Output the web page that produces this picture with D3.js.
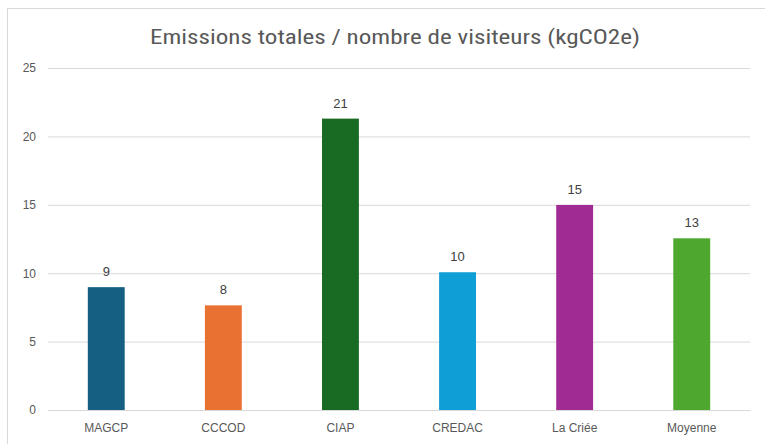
<!DOCTYPE html>
<html><head><meta charset="utf-8">
<script src="https://cdn.jsdelivr.net/npm/d3@7"></script>
<style>body{margin:0;background:#fff}svg{display:block}</style>
</head><body>
<svg id="c" width="765" height="444"></svg>
<script>
const categories = ["MAGCP","CCCOD","CIAP","CREDAC","La Criée","Moyenne"];
const values = [8.98, 7.65, 21.3, 10.07, 14.99, 12.55];
const labels = ["9","8","21","10","15","13"];
const colors = ["#156082","#E97132","#196B24","#0F9ED5","#A02B93","#4EA72E"];
const yTicks = [0,5,10,15,20,25];
const title = "Emissions totales / nombre de visiteurs (kgCO2e)";

const svg = d3.select("#c");
svg.append("rect").attr("x",7.5).attr("y",8.5).attr("width",770).attr("height",450)
  .attr("fill","#fff").attr("stroke","#d9d9d9");

const m = {l:48, r:750, t:68, b:410};
const x = d3.scaleBand().domain(categories).range([m.l,m.r]).paddingInner(0.685).paddingOuter(0.34);
const y = d3.scaleLinear().domain([0,25]).range([m.b,m.t]);

svg.append("text").attr("x",395).attr("y",44).attr("text-anchor","middle")
  .attr("font-family","'Liberation Sans Narrow','Roboto Condensed','Open Sans',sans-serif")
  .attr("font-size",20).attr("fill","#595959")
  .attr("textLength",490).attr("lengthAdjust","spacingAndGlyphs").text(title);

const ya = d3.axisLeft(y).tickValues(yTicks).tickSize(-(m.r-m.l)).tickPadding(12);
const gy = svg.append("g").attr("transform",`translate(${m.l},0)`).call(ya);
gy.select(".domain").remove();
gy.selectAll(".tick line").attr("stroke","#d9d9d9");
gy.selectAll(".tick text").attr("fill","#595959").attr("font-size",12)
  .attr("font-family","'Liberation Sans',Arial,sans-serif");

const xa = d3.axisBottom(x).tickSize(0).tickPadding(13);
const gx = svg.append("g").attr("transform",`translate(0,${m.b})`).call(xa);
gx.select(".domain").attr("stroke","#d9d9d9");
gx.selectAll(".tick text").attr("fill","#595959").attr("font-size",12)
  .attr("font-family","'Liberation Sans',Arial,sans-serif");

const data = categories.map((c,i)=>({c, v:values[i], l:labels[i], col:colors[i]}));
svg.append("g").selectAll("rect").data(data).join("rect")
  .attr("x",d=>x(d.c)).attr("width",x.bandwidth())
  .attr("y",d=>y(d.v)).attr("height",d=>y(0)-y(d.v)).attr("fill",d=>d.col);

svg.append("g").selectAll("text").data(data).join("text")
  .attr("x",d=>x(d.c)+x.bandwidth()/2).attr("y",d=>y(d.v)-11)
  .attr("text-anchor","middle").attr("font-size",13).attr("fill","#404040")
  .attr("font-family","'Liberation Sans',Arial,sans-serif").text(d=>d.l);
</script>
</body></html>
